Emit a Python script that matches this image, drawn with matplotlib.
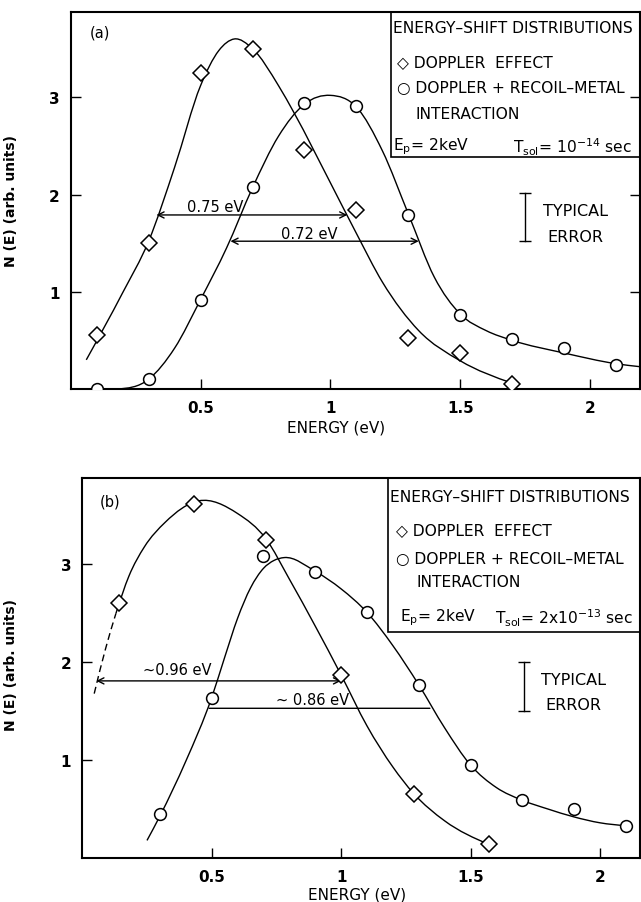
import numpy as np
import matplotlib
matplotlib.use('Agg')
import matplotlib.pyplot as plt
from matplotlib.path import Path
from matplotlib.patches import PathPatch, Rectangle

# ---- panel (a): T_sol = 1e-14 s ----
a_dop_x = [0.1, 0.3, 0.5, 0.7, 0.9, 1.1, 1.3, 1.5, 1.7]
a_dop_y = [0.56, 1.50, 3.25, 3.50, 2.46, 1.84, 0.52, 0.37, 0.05]
a_rec_x = [0.1, 0.3, 0.5, 0.7, 0.9, 1.1, 1.3, 1.5, 1.7, 1.9, 2.1]
a_rec_y = [0.0, 0.10, 0.92, 2.08, 2.94, 2.91, 1.79, 0.76, 0.51, 0.42, 0.25]
a_dop_fit_x = [0.06, 0.2, 0.3, 0.4, 0.5, 0.57, 0.63, 0.7, 0.8, 0.86, 1.0, 1.1, 1.2, 1.34, 1.5, 1.7]
a_dop_fit_y = [0.30, 0.99, 1.52, 2.28, 3.12, 3.48, 3.6, 3.5, 3.12, 2.84, 2.12, 1.6, 1.1, 0.6, 0.29, 0.06]
a_rec_fit_x = [0.18, 0.3, 0.4, 0.5, 0.6, 0.7, 0.8, 0.9, 1.0, 1.1, 1.2, 1.3, 1.4, 1.5, 1.6, 1.7, 1.9, 2.1, 2.19]
a_rec_fit_y = [0.0, 0.1, 0.42, 0.92, 1.45, 2.07, 2.6, 2.93, 3.02, 2.9, 2.45, 1.8, 1.15, 0.77, 0.6, 0.5, 0.37, 0.26, 0.23]

# ---- panel (b): T_sol = 2e-13 s ----
b_dop_x = [0.14, 0.43, 0.71, 1.0, 1.28, 1.57]
b_dop_y = [2.61, 3.62, 3.25, 1.87, 0.65, 0.14]
b_rec_x = [0.3, 0.5, 0.7, 0.9, 1.1, 1.3, 1.5, 1.7, 1.9, 2.1]
b_rec_y = [0.45, 1.64, 3.09, 2.92, 2.51, 1.77, 0.95, 0.59, 0.50, 0.33]
b_dop_dash_x = [0.046, 0.09, 0.13]
b_dop_dash_y = [1.68, 2.14, 2.50]
b_dop_fit_x = [0.13, 0.18, 0.24, 0.32, 0.45, 0.6, 0.71, 0.8, 0.9, 1.0, 1.1, 1.2, 1.28, 1.4, 1.57]
b_dop_fit_y = [2.50, 2.88, 3.18, 3.43, 3.65, 3.52, 3.26, 2.85, 2.37, 1.87, 1.35, 0.93, 0.66, 0.38, 0.14]
b_rec_fit_x = [0.25, 0.3, 0.4, 0.5, 0.55, 0.6, 0.65, 0.7, 0.74, 0.78, 0.9, 1.0, 1.1, 1.2, 1.3, 1.4, 1.5, 1.6, 1.7, 1.8, 1.9, 2.0, 2.1]
b_rec_fit_y = [0.18, 0.43, 0.99, 1.64, 2.05, 2.45, 2.76, 2.96, 3.04, 3.07, 2.93, 2.75, 2.51, 2.17, 1.77, 1.33, 0.95, 0.72, 0.59, 0.5, 0.42, 0.36, 0.33]

xticks = [0.5, 1, 1.5, 2]
xticklabels = ['0.5', '1', '1.5', '2']
yticks = [1, 2, 3]
yticklabels = ['1', '2', '3']

plt.rcParams['font.family'] = ['DejaVu Sans']
plt.rcParams['mathtext.fontset'] = 'dejavusans'


def smooth_path(xs, ys):
    # hermite through the knots (slopes from neighbours), as bezier segments
    x = np.asarray(xs, float)
    y = np.asarray(ys, float)
    h = np.diff(x)
    d = np.diff(y) / h
    m = np.empty_like(x)
    m[1:-1] = (d[:-1] * h[1:] + d[1:] * h[:-1]) / (h[:-1] + h[1:])
    m[0] = d[0] if len(d) < 2 else 1.5 * d[0] - 0.5 * m[1]
    m[-1] = d[-1] if len(d) < 2 else 1.5 * d[-1] - 0.5 * m[-2]
    verts = [(x[0], y[0])]
    codes = [Path.MOVETO]
    for i in range(len(x) - 1):
        verts += [(x[i] + h[i] / 3, y[i] + m[i] * h[i] / 3),
                  (x[i + 1] - h[i] / 3, y[i + 1] - m[i + 1] * h[i] / 3),
                  (x[i + 1], y[i + 1])]
        codes += [Path.CURVE4] * 3
    return Path(verts, codes)


def draw_curve(ax, xs, ys, ls='-'):
    ax.add_patch(PathPatch(smooth_path(xs, ys), fill=False, ec='k', lw=1.0, ls=ls, zorder=2))


def setup_axes(ax, xmax, right_ticks):
    ax.set_xlim(0, xmax)
    ax.set_ylim(0, 3.88)
    ax.set_xticks(xticks)
    ax.set_xticklabels(xticklabels)
    ax.set_yticks(yticks)
    ax.set_yticklabels(yticklabels)
    ax.tick_params(direction='in', length=7, width=1.0, labelsize=11, pad=8,
                   right=right_ticks)
    for lab in ax.get_xticklabels() + ax.get_yticklabels():
        lab.set_fontweight('bold')
    for s in ax.spines.values():
        s.set_linewidth(1.5)


def legend_box(ax, x0, y0, lines):
    ax.add_patch(Rectangle((x0, y0), 1 - x0, 1 - y0, transform=ax.transAxes,
                           fill=False, ec='k', lw=1.2, zorder=3))
    for x, y, s, ha in lines:
        ax.text(x, y, s, transform=ax.transAxes, fontsize=11.2, ha=ha, va='center')


def typical_error(ax, x, y0, y1, tx, ty1, ty2):
    ax.plot([x, x], [y0, y1], color='k', lw=1.0, marker='_', ms=9, mew=1.0,
            transform=ax.transAxes)
    ax.text(tx, ty1, 'TYPICAL', transform=ax.transAxes, fontsize=11.5, ha='center', va='center')
    ax.text(tx, ty2, 'ERROR', transform=ax.transAxes, fontsize=11.5, ha='center', va='center')


def span_arrow(ax, x0, x1, y, heads=True):
    style = '<->' if heads else '-'
    ax.annotate('', xy=(x1, y), xytext=(x0, y),
                arrowprops=dict(arrowstyle=style, lw=1.0, color='k',
                                shrinkA=0, shrinkB=0, mutation_scale=11))


fig = plt.figure(figsize=(6.41, 9.03), dpi=100)
axa = fig.add_axes([0.1103, 0.5681, 0.8874, 0.4178])
axb = fig.add_axes([0.1284, 0.0487, 0.8693, 0.4205])

mk = dict(ls='none', mfc='white', mec='k', mew=1.1, zorder=4)

# panel (a)
draw_curve(axa, a_dop_fit_x, a_dop_fit_y)
draw_curve(axa, a_rec_fit_x, a_rec_fit_y)
axa.plot(a_dop_x, a_dop_y, marker='D', ms=8, **mk)
axa.plot(a_rec_x, a_rec_y, marker='o', ms=8.5, **mk)
setup_axes(axa, 2.19, True)
span_arrow(axa, 0.33, 1.065, 1.79)
span_arrow(axa, 0.615, 1.34, 1.52)
axa.text(0.556, 1.88, '0.75 eV', fontsize=10.5, ha='center', va='center')
axa.text(0.918, 1.60, '0.72 eV', fontsize=10.5, ha='center', va='center')
axa.text(0.034, 0.946, '(a)', transform=axa.transAxes, fontsize=10.5, va='center')
legend_box(axa, 0.5626, 0.615, [
    (0.566, 0.959, 'ENERGY\u2013SHIFT DISTRIBUTIONS', 'left'),
    (0.573, 0.869, '\u25c7 DOPPLER  EFFECT', 'left'),
    (0.573, 0.798, '\u25cb DOPPLER + RECOIL\u2013METAL', 'left'),
    (0.607, 0.729, 'INTERACTION', 'left'),
    (0.567, 0.644, r'E$_\mathregular{p}$= 2keV', 'left'),
    (0.986, 0.644, r'T$_\mathregular{sol}$= 10$^\mathregular{-14}$ sec', 'right'),
])
typical_error(axa, 0.798, 0.519, 0.392, 0.887, 0.473, 0.405)
axa.set_ylabel('N (E) (arb. units)', fontsize=10, fontweight='bold')
axa.yaxis.set_label_coords(-0.093, 0.5)
axa.set_xlabel('ENERGY (eV)', fontsize=11)
axa.xaxis.set_label_coords(0.466, -0.082)

# panel (b)
draw_curve(axb, b_dop_dash_x, b_dop_dash_y, ls=(0, (5, 3)))
draw_curve(axb, b_dop_fit_x, b_dop_fit_y)
draw_curve(axb, b_rec_fit_x, b_rec_fit_y)
axb.plot(b_dop_x, b_dop_y, marker='D', ms=8, **mk)
axb.plot(b_rec_x, b_rec_y, marker='o', ms=8.5, **mk)
setup_axes(axb, 2.153, False)
span_arrow(axb, 0.054, 1.0, 1.81)
span_arrow(axb, 0.49, 1.343, 1.53, heads=False)
axb.text(0.366, 1.93, '~0.96 eV', fontsize=10.5, ha='center', va='center')
axb.text(0.888, 1.62, '~ 0.86 eV', fontsize=10.5, ha='center', va='center')
axb.text(0.032, 0.941, '(b)', transform=axb.transAxes, fontsize=10.5, va='center')
legend_box(axb, 0.548, 0.596, [
    (0.552, 0.953, 'ENERGY\u2013SHIFT DISTRIBUTIONS', 'left'),
    (0.563, 0.864, '\u25c7 DOPPLER  EFFECT', 'left'),
    (0.563, 0.790, '\u25cb DOPPLER + RECOIL\u2013METAL', 'left'),
    (0.599, 0.727, 'INTERACTION', 'left'),
    (0.570, 0.635, r'E$_\mathregular{p}$= 2keV', 'left'),
    (0.988, 0.635, r'T$_\mathregular{sol}$= 2x10$^\mathregular{-13}$ sec', 'right'),
])
typical_error(axb, 0.793, 0.517, 0.388, 0.882, 0.471, 0.404)
axb.set_ylabel('N (E) (arb. units)', fontsize=10, fontweight='bold')
axb.yaxis.set_label_coords(-0.115, 0.51)
axb.set_xlabel('ENERGY (eV)', fontsize=11)
axb.xaxis.set_label_coords(0.493, -0.076)

fig.savefig('out.png', dpi=100)
